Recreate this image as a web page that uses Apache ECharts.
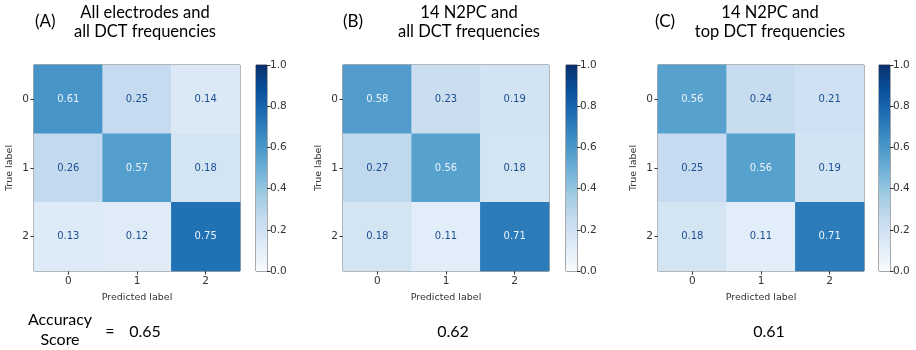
<!DOCTYPE html>
<html><head><meta charset="utf-8">
<script src="https://cdn.jsdelivr.net/npm/echarts@6/dist/echarts.min.js"></script>
<style>html,body{margin:0;padding:0;background:#fff}#c{width:916px;height:350px}</style>
</head><body><div id="c"></div>
<script>
const classLabels = ['0', '1', '2'];
const matrixA = [[0.61, 0.25, 0.14], [0.26, 0.57, 0.18], [0.13, 0.12, 0.75]];
const matrixB = [[0.58, 0.23, 0.19], [0.27, 0.56, 0.18], [0.18, 0.11, 0.71]];
const matrixC = [[0.56, 0.24, 0.21], [0.25, 0.56, 0.19], [0.18, 0.11, 0.71]];
const panelTags = ['(A)', '(B)', '(C)'];
const panelTitles = ['All electrodes and\nall DCT frequencies', '14 N2PC and\nall DCT frequencies', '14 N2PC and\ntop DCT frequencies'];
const accuracyScores = ['0.65', '0.62', '0.61'];
const colorbarMax = [1];

const blues = ['#f7fbff', '#deebf7', '#c6dbef', '#9ecae1', '#6baed6', '#4292c6', '#2171b5', '#08519c', '#08306b'];
const matrices = [matrixA, matrixB, matrixC];
const gridLefts = [34, 343, 658];
const cbLefts = [256, 566, 879];
const gridW = 206, gridTop = 65, gridH = 206;

const grids = [], xAxes = [], yAxes = [], series = [], graphics = [];
const axisFont = 'DejaVu Sans';

matrices.forEach((m, p) => {
  grids.push({ left: gridLefts[p], top: gridTop, width: gridW, height: gridH, show: true, borderColor: '#555', borderWidth: 1, backgroundColor: 'transparent' });
  xAxes.push({ type: 'category', gridIndex: p, data: classLabels, position: 'bottom',
    axisLine: { show: false }, axisTick: { show: true, alignWithLabel: true, length: 3.5, lineStyle: { color: '#333' } },
    axisLabel: { fontSize: 10.5, color: '#333', margin: 5, fontFamily: axisFont },
    name: 'Predicted label', nameLocation: 'middle', nameGap: 22, nameTextStyle: { fontSize: 9.5, color: '#333', fontFamily: axisFont },
    splitLine: { show: false } });
  yAxes.push({ type: 'category', gridIndex: p, data: classLabels, inverse: true,
    axisLine: { show: false }, axisTick: { show: true, alignWithLabel: true, length: 3.5, lineStyle: { color: '#333' } },
    axisLabel: { fontSize: 10.5, color: '#333', margin: 5, fontFamily: axisFont },
    name: 'True label', nameLocation: 'middle', nameGap: 19, nameRotate: 90, nameTextStyle: { fontSize: 9.5, color: '#333', fontFamily: axisFont },
    splitLine: { show: false } });
  const data = [];
  m.forEach((row, r) => row.forEach((v, c) => {
    data.push({ value: [c, r, v], label: { color: v > 0.5 ? '#eaf2fa' : '#1d4f90' } });
  }));
  series.push({ type: 'heatmap', xAxisIndex: p, yAxisIndex: p, data: data,
    label: { show: true, fontSize: 10, fontFamily: axisFont, formatter: d => d.value[2].toFixed(2) },
    emphasis: { disabled: true } });
});

// colorbars
cbLefts.forEach((l, i) => {
  const p = 3 + i;
  grids.push({ left: l, top: gridTop, width: 11, height: gridH, show: true, borderColor: '#555', borderWidth: 1, backgroundColor: 'transparent' });
  xAxes.push({ type: 'category', gridIndex: p, data: [''], show: false });
  yAxes.push({ type: 'value', gridIndex: p, min: 0, max: 1, interval: 0.2, position: 'right',
    axisLine: { show: false }, axisTick: { show: true, length: 3.5, lineStyle: { color: '#333' } },
    axisLabel: { fontSize: 10.5, color: '#333', margin: 3, fontFamily: axisFont, formatter: v => v.toFixed(1) },
    splitLine: { show: false } });
  series.push({ type: 'bar', xAxisIndex: p, yAxisIndex: p, data: colorbarMax, barWidth: '100%', silent: true,
    itemStyle: { color: new echarts.graphic.LinearGradient(0, 1, 0, 0, blues.map((c, k) => ({ offset: k / (blues.length - 1), color: c }))) } });
});

const tagX = [35, 343, 655];
const titleCx = [145, 469, 770];
const accX = [145, 453, 769];
const titleFont = 'Lato';
panelTags.forEach((t, i) => {
  graphics.push({ type: 'text', left: tagX[i], top: 13, style: { text: t, font: '17px ' + titleFont, fill: '#000' } });
  graphics.push({ type: 'text', x: titleCx[i], y: 3, style: { text: panelTitles[i], font: '16.5px ' + titleFont, fill: '#000', align: 'center', verticalAlign: 'top', lineHeight: 19 } });
  graphics.push({ type: 'text', x: accX[i], y: 332, style: { text: accuracyScores[i], font: '16px ' + titleFont, fill: '#000', align: 'center', verticalAlign: 'middle' } });
});
graphics.push({ type: 'text', x: 60, y: 320, style: { text: 'Accuracy', font: '16px ' + titleFont, fill: '#000', align: 'center', verticalAlign: 'middle' } });
graphics.push({ type: 'text', x: 60, y: 340, style: { text: 'Score', font: '16px ' + titleFont, fill: '#000', align: 'center', verticalAlign: 'middle' } });
graphics.push({ type: 'text', x: 110, y: 332, style: { text: '=', font: '16px ' + titleFont, fill: '#000', align: 'center', verticalAlign: 'middle' } });

const chart = echarts.init(document.getElementById('c'), null, { renderer: 'canvas' });
chart.setOption({
  animation: false,
  backgroundColor: '#fff',
  grid: grids, xAxis: xAxes, yAxis: yAxes, series: series,
  visualMap: { type: 'continuous', show: false, min: 0, max: 1, seriesIndex: [0, 1, 2], inRange: { color: blues } },
  graphic: graphics
});
</script></body></html>
